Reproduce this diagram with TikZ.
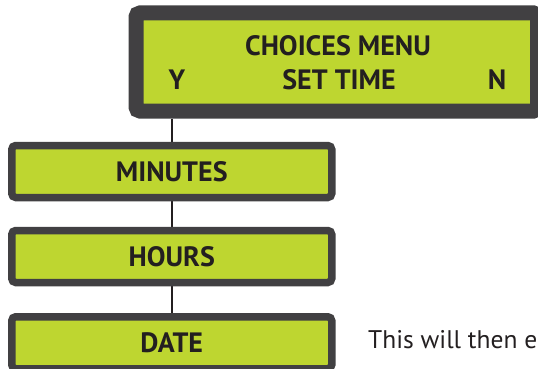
\documentclass[tikz,border=0pt]{standalone}
\usepackage{fontspec}
\setmainfont{PT Sans}
\usetikzlibrary{backgrounds}
\definecolor{lcdgreen}{RGB}{190,214,48}
\definecolor{bordergray}{RGB}{65,64,66}
\definecolor{inkdark}{RGB}{35,31,32}
\tikzset{
  lcd/.style={draw=bordergray, fill=lcdgreen, rounded corners=4pt, inner sep=0pt},
  bigbox/.style={lcd, line width=15pt, minimum width=401.5pt, minimum height=98pt},
  smallbox/.style={lcd, line width=7.5pt, minimum width=320pt, minimum height=52pt,
    font=\bfseries\fontsize{28}{32}\selectfont, text=inkdark},
  lcdtext/.style={inner sep=0pt, font=\bfseries\fontsize{28}{32}\selectfont, text=inkdark},
  link/.style={draw=inkdark, line width=2pt},
  bodytext/.style={inner sep=0pt, anchor=base west, font=\fontsize{25.5}{30}\selectfont, text=inkdark}
}
\begin{document}
\begin{tikzpicture}[x=1pt,y=-1pt]
\useasboundingbox (0,0) rectangle (538,369);
\clip (0,0) rectangle (538,369);
\node[bigbox] (menu) at (336.75,62) {};
\node[lcdtext] (title) at (338,46) {CHOICES MENU};
\node[lcdtext] (yes) at (177,80) {Y};
\node[lcdtext] (settime) at (339,80) {SET TIME};
\node[lcdtext] (no) at (497,80) {N};
\node[smallbox] (minutes) at (171.75,171.5) {MINUTES};
\node[smallbox] (hours) at (171.75,256.5) {HOURS};
\node[smallbox] (date) at (171.75,342.75) {DATE};
\node[bodytext] (note) at (368,348) {This will then e};
\begin{scope}[on background layer]
\draw[link] (menu.south -| minutes.north) -- (minutes.north);
\draw[link] (minutes) -- (hours);
\draw[link] (hours) -- (date);
\end{scope}
\end{tikzpicture}
\end{document}
